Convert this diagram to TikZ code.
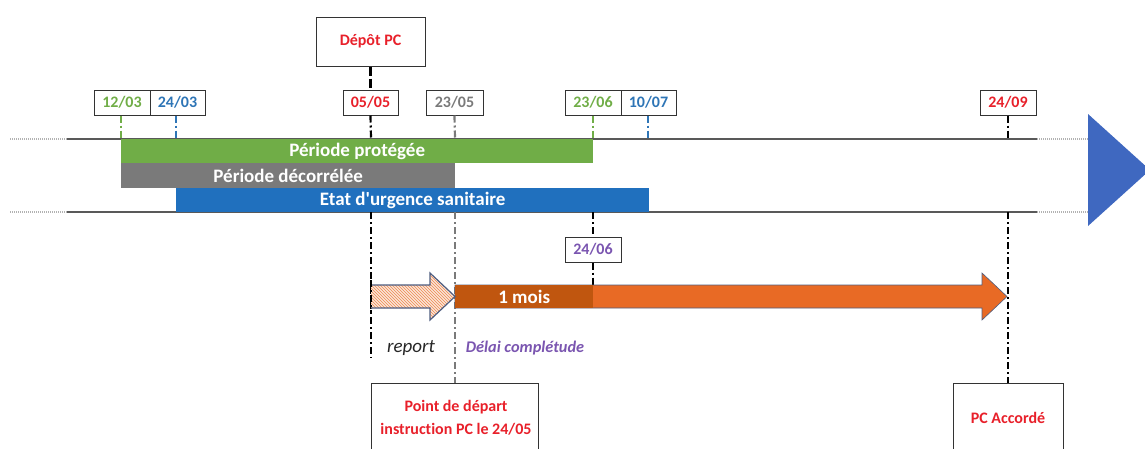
\documentclass[tikz,border=0pt]{standalone}
\usepackage{fontspec}
\setmainfont{Carlito}[Ligatures={NoCommon}]
\usetikzlibrary{patterns}
\definecolor{cgreen}{HTML}{70AD47}
\definecolor{cgrey}{HTML}{7A7A7A}
\definecolor{cblue}{HTML}{2070BE}
\definecolor{ctri}{HTML}{3F68C0}
\definecolor{cred}{HTML}{E8202A}
\definecolor{cpurple}{HTML}{7A55B0}
\definecolor{corange}{HTML}{E86A25}
\definecolor{cdorange}{HTML}{C0560F}
\definecolor{cpeach}{HTML}{FBE5D6}
\definecolor{coutline}{HTML}{4E5D80}
\definecolor{cdtext}{HTML}{2E75B6}
\begin{document}
\begin{tikzpicture}[x=1pt,y=-1pt,
  datebox/.style={draw=black!80,line width=1pt,minimum width=56pt,minimum height=25pt,inner sep=0pt,font=\fontsize{16}{17}\selectfont\bfseries},
  bigbox/.style={draw=black!80,line width=1pt,inner sep=0pt,font=\fontsize{16}{23}\selectfont\bfseries,text=cred,align=center},
  timeline/.style={line width=1.6pt,draw=black!65},
  dotline/.style={line width=1.6pt,draw=black!30,dash pattern=on 1pt off 1pt},
  tick/.style={line width=2.2pt,dash pattern=on 7pt off 3pt on 2pt off 3pt},
  bartext/.style={font=\fontsize{19}{20}\selectfont\bfseries,text=white}
]
\useasboundingbox (0,0) rectangle (1145,448);
\clip (0,0) rectangle (1145,448);

% time lines
\coordinate (t0) at (10,139); \coordinate (t1) at (67,139); \coordinate (t2) at (1037,139); \coordinate (t3) at (1088,139);
\coordinate (b0) at (10,212); \coordinate (b1) at (67,212); \coordinate (b2) at (1037,212); \coordinate (b3) at (1088,212);
\draw[dotline] (t0) -- (t1); \draw[dotline] (t2) -- (t3);
\draw[dotline] (b0) -- (b1); \draw[dotline] (b2) -- (b3);
\draw[timeline] (t1) -- (t2);
\draw[timeline] (b1) -- (b2);

% blue triangle
\fill[ctri] (1088,114) -- (1150,170) -- (1088,226) -- cycle;

% bars
\node[fill=cgreen,minimum width=472pt,minimum height=24pt,inner sep=0pt,anchor=north west,bartext] (pp) at (121,139) {Période protégée};
\node[fill=cgrey,minimum width=334pt,minimum height=25pt,inner sep=0pt,anchor=north west,bartext] (pd) at (121,163) {Période décorrélée};
\node[fill=cblue,minimum width=473pt,minimum height=24pt,inner sep=0pt,anchor=north west,bartext] (eu) at (176,188) {Etat d\textquotesingle urgence sanitaire};

% date boxes
\node[datebox,text=cgreen,minimum width=56pt] (d1203) at (122,102.5) {12/03};
\node[datebox,text=cdtext,minimum width=55pt] (d2403) at (177.5,102.5) {24/03};
\node[datebox,text=cred,minimum width=55pt] (d0505) at (370.5,102.5) {05/05};
\node[datebox,text=cgrey,minimum width=57pt] (d2305) at (454.5,102.5) {23/05};
\node[datebox,text=cgreen,minimum width=56pt] (d2306) at (593,102.5) {23/06};
\node[datebox,text=cdtext,minimum width=55pt] (d1007) at (648.5,102.5) {10/07};
\node[datebox,text=cred,minimum width=56pt] (d2409) at (1008,102.5) {24/09};
\node[datebox,text=cpurple,minimum width=56pt] (d2406) at (593,249.5) {24/06};

% Depot PC box
\node[bigbox,minimum width=109pt,minimum height=49pt] (depot) at (370.5,41.5) {Dépôt PC};
\draw[line width=2.2pt,dash pattern=on 9pt off 3pt] (depot.south) -- (d0505.north);

% tick coordinates on top line
\coordinate (k1203) at (121,139); \coordinate (k2403) at (176,139);
\coordinate (k0505) at (371,139); \coordinate (k2305) at (455,139);
\coordinate (k2306) at (593,139); \coordinate (k1007) at (648,139);
\coordinate (k2409) at (1008,139);
\draw[tick,cgreen] ([xshift=-1pt]d1203.south) -- (k1203);
\draw[tick,cdtext] ([xshift=-1.5pt]d2403.south) -- (k2403);
\draw[tick,black] (d0505.south) -- (k0505);
\draw[tick,cgrey] (d2305.south) -- (k2305);
\draw[tick,cgreen] (d2306.south) -- (k2306);
\draw[tick,cdtext] ([xshift=-0.5pt]d1007.south) -- (k1007);
\draw[tick,black] (d2409.south) -- (k2409);

% lower boxes
\node[bigbox,minimum width=167pt,minimum height=80pt,anchor=north west] (start) at (371,383) {};
\node[font=\fontsize{16}{23}\selectfont\bfseries,text=cred,align=center] (starttxt) at (456,417.5) {Point de départ\\instruction PC le 24/05};
\node[bigbox,minimum width=110pt,minimum height=80pt,anchor=north west] (pcacc) at (953,383) {};
\node[font=\fontsize{16}{18}\selectfont\bfseries,text=cred] (pctxt) at (1008,418) {PC Accordé};

% vertical lines below
\coordinate (u0505) at (371,212); \coordinate (e0505) at (371,358);
\coordinate (u2305) at (455,212);
\coordinate (u2406) at (593,212);
\coordinate (u2409) at (1008,212);
\coordinate (a2406) at (593,286);
\draw[tick,black] (u0505) -- (e0505);
\draw[tick,cgrey] (u2305) -- (u2305 |- start.north);
\draw[tick,black] (u2406) -- (d2406.north);
\draw[tick,black] (d2406.south) -- (a2406);
\draw[tick,black] (u2409) -- (u2409 |- pcacc.north);

% orange arrow
\coordinate (otip) at (1007,296.5);
\fill[corange,draw=coutline,line width=0.6pt] (455,285) -- (982,285) -- (982,273) -- (otip) -- (982,320) -- (982,308) -- (455,308) -- cycle;
\node[fill=cdorange,minimum width=138pt,minimum height=23pt,inner sep=0pt,anchor=north west,bartext] (mois) at (455,285) {1 mois};

% hatched arrow
\coordinate (htip) at (455,296.5);
\fill[cpeach] (371,285) -- (430,285) -- (430,273) -- (htip) -- (430,320) -- (430,308) -- (371,308) -- cycle;
\fill[pattern=north west lines,pattern color=corange!80] (371,285) -- (430,285) -- (430,273) -- (htip) -- (430,320) -- (430,308) -- (371,308) -- cycle;
\draw[coutline,line width=1.2pt,line join=miter] (371,285) -- (430,285) -- (430,273) -- (htip) -- (430,320) -- (430,308) -- (371,308);

% redraw the 05/05 line over the hatched arrow start
\draw[tick,black] (371,280) -- (371,312);

% labels
\node[font=\fontsize{19}{20}\selectfont\itshape,text=black!85] (report) at (411,348) {report};
\node[font=\fontsize{16.3}{18}\selectfont\bfseries\itshape,text=cpurple] (delai) at (525,348) {Délai complétude};
\end{tikzpicture}
\end{document}
